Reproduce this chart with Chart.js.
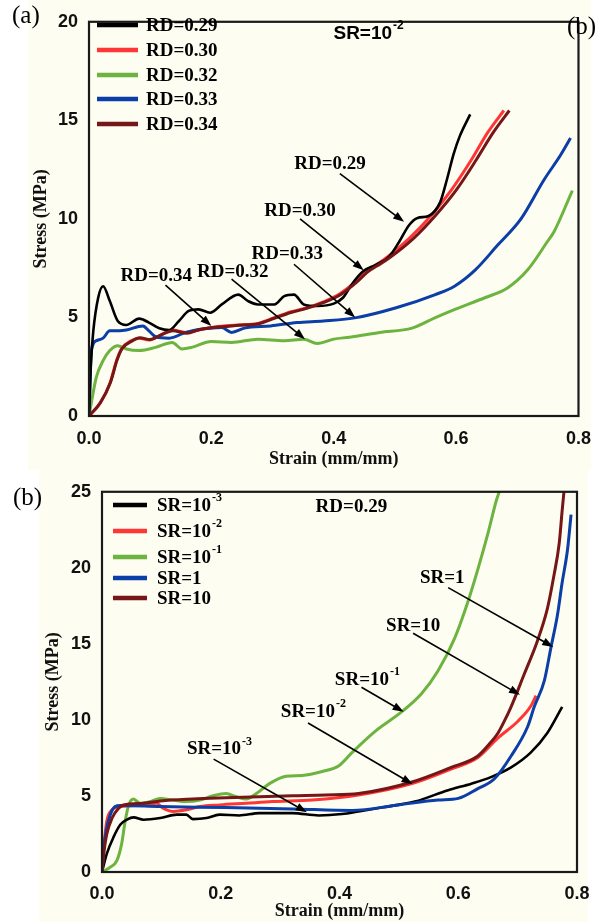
<!DOCTYPE html>
<html>
<head>
<meta charset="utf-8">
<script src="https://cdn.jsdelivr.net/npm/chart.js@4.4.0/dist/chart.umd.min.js"></script>
<style>
  body { margin: 0; background: #fff; }
  #wrap { position: relative; width: 603px; height: 922px; }
  canvas { position: absolute; left: 0; }
</style>
</head>
<body>
<div id="wrap">
  <canvas id="chartA" width="603" height="470" style="top:0px"></canvas>
  <canvas id="chartB" width="603" height="452" style="top:470px"></canvas>
</div>
<script>
// ---- data, panel (a): SR = 10^-2, strain vs stress ----
const rd029 = [[0,0],[0.003,2.6],[0.007,4.3],[0.015,6.0],[0.023,6.58],[0.034,5.83],[0.047,4.82],[0.061,4.62],[0.082,4.94],[0.098,4.74],[0.115,4.45],[0.131,4.36],[0.147,4.82],[0.163,5.33],[0.179,5.41],[0.198,5.24],[0.217,5.66],[0.244,6.16],[0.26,5.83],[0.276,5.66],[0.303,5.66],[0.319,6.08],[0.335,6.16],[0.351,5.66],[0.373,5.58],[0.4,5.7],[0.415,6.0],[0.43,6.7],[0.448,7.34],[0.469,7.67],[0.491,8.1],[0.507,8.84],[0.523,9.68],[0.537,10.05],[0.555,10.15],[0.574,10.85],[0.585,12.0],[0.596,13.3],[0.606,14.2],[0.623,15.3]];
const rd030 = [[0,0],[0.018,0.64],[0.034,1.64],[0.045,2.81],[0.053,3.4],[0.069,3.82],[0.082,3.95],[0.098,3.85],[0.115,4.07],[0.136,4.36],[0.158,4.24],[0.179,4.36],[0.206,4.52],[0.244,4.62],[0.276,4.7],[0.303,4.99],[0.329,5.28],[0.356,5.49],[0.383,5.79],[0.41,6.2],[0.437,6.85],[0.453,7.34],[0.469,7.67],[0.485,8.0],[0.523,9.0],[0.56,10.2],[0.593,11.5],[0.625,13.0],[0.652,14.4],[0.678,15.5]];
const rd032 = [[0,0],[0.012,1.97],[0.023,2.81],[0.034,3.32],[0.047,3.57],[0.061,3.4],[0.082,3.32],[0.109,3.48],[0.136,3.73],[0.152,3.4],[0.168,3.48],[0.2,3.78],[0.233,3.73],[0.276,3.9],[0.319,3.82],[0.351,3.9],[0.373,3.68],[0.4,3.9],[0.426,4.0],[0.475,4.24],[0.528,4.46],[0.566,4.99],[0.598,5.41],[0.647,6.0],[0.684,6.5],[0.717,7.42],[0.749,8.84],[0.76,9.35],[0.79,11.44]];
const rd033 = [[0,0],[0.004,3.32],[0.012,3.82],[0.023,3.95],[0.034,4.32],[0.05,4.32],[0.061,4.36],[0.088,4.57],[0.098,4.32],[0.109,4.02],[0.131,3.95],[0.158,4.24],[0.184,4.41],[0.217,4.49],[0.233,4.24],[0.254,4.46],[0.297,4.57],[0.34,4.74],[0.383,4.82],[0.437,4.99],[0.502,5.49],[0.566,6.16],[0.598,6.6],[0.631,7.4],[0.668,8.67],[0.706,10.0],[0.744,12.0],[0.77,13.2],[0.787,14.1]];
const rd034 = [[0,0],[0.019,0.7],[0.035,1.7],[0.046,2.85],[0.054,3.42],[0.07,3.8],[0.083,3.97],[0.1,3.88],[0.117,4.1],[0.137,4.33],[0.16,4.2],[0.18,4.38],[0.207,4.5],[0.245,4.6],[0.277,4.68],[0.304,4.97],[0.33,5.25],[0.357,5.47],[0.384,5.76],[0.411,6.15],[0.438,6.8],[0.455,7.3],[0.471,7.62],[0.49,8.0],[0.53,9.0],[0.567,10.2],[0.601,11.5],[0.633,13.0],[0.661,14.4],[0.687,15.5]];

// ---- data, panel (b): RD = 0.29 ----
const sr1e3 = [[0,0],[0.008,1.19],[0.019,2.26],[0.031,3.12],[0.042,3.44],[0.053,3.59],[0.07,3.44],[0.098,3.55],[0.126,3.77],[0.142,3.77],[0.153,3.48],[0.176,3.55],[0.198,3.77],[0.231,3.72],[0.265,3.87],[0.321,3.87],[0.365,3.72],[0.404,3.81],[0.432,3.98],[0.471,4.24],[0.527,4.63],[0.583,5.38],[0.622,5.81],[0.655,6.24],[0.689,6.88],[0.722,7.85],[0.75,9.14],[0.775,10.86]];
const sr1e2 = [[0,0],[0.003,1.61],[0.008,3.34],[0.017,4.09],[0.031,4.3],[0.07,4.41],[0.092,4.52],[0.103,4.19],[0.12,3.98],[0.142,4.09],[0.165,4.3],[0.198,4.41],[0.243,4.52],[0.287,4.63],[0.354,4.73],[0.432,5.06],[0.522,5.81],[0.588,6.77],[0.633,7.53],[0.667,8.82],[0.7,9.9],[0.722,10.9],[0.731,11.6]];
const sr1e1 = [[0,0],[0.014,0.32],[0.025,0.75],[0.033,1.83],[0.039,3.34],[0.045,4.41],[0.053,4.8],[0.064,4.52],[0.081,4.63],[0.098,4.84],[0.12,4.73],[0.142,4.63],[0.165,4.73],[0.187,5.01],[0.209,5.16],[0.226,4.95],[0.243,4.8],[0.26,5.16],[0.282,5.81],[0.31,6.3],[0.337,6.35],[0.371,6.61],[0.399,6.99],[0.421,7.85],[0.46,9.25],[0.505,10.54],[0.538,11.72],[0.566,13.23],[0.594,15.38],[0.616,17.74],[0.633,19.9],[0.65,22.26],[0.664,24.41],[0.669,25.0]];
const sr1 = [[0,0],[0.003,1.6],[0.008,2.9],[0.014,3.77],[0.022,4.3],[0.031,4.37],[0.098,4.3],[0.209,4.24],[0.321,4.15],[0.421,4.05],[0.499,4.41],[0.566,4.73],[0.6,4.84],[0.633,5.48],[0.661,6.13],[0.689,7.63],[0.717,9.57],[0.728,10.86],[0.745,12.58],[0.756,14.74],[0.767,16.88],[0.775,19.03],[0.784,21.19],[0.79,23.5]];
const sr10 = [[0,0],[0.003,1.2],[0.008,2.48],[0.017,3.55],[0.028,4.19],[0.036,4.41],[0.07,4.52],[0.098,4.67],[0.153,4.8],[0.209,4.88],[0.265,4.95],[0.321,5.01],[0.377,5.06],[0.432,5.16],[0.522,5.92],[0.588,6.88],[0.633,7.63],[0.652,8.4],[0.667,9.14],[0.678,9.95],[0.689,10.86],[0.711,13.0],[0.733,15.16],[0.75,17.3],[0.761,19.46],[0.77,21.6],[0.775,23.76],[0.778,25.0]];

// series labels (text + superscript) and colours
const labelsA = [['RD=0.29',''],['RD=0.30',''],['RD=0.32',''],['RD=0.33',''],['RD=0.34','']];
const labelsB = [['SR=10','-3'],['SR=10','-2'],['SR=10','-1'],['SR=1',''],['SR=10','']];
const colours = ['#000000','#ff3636','#6cb33f','#0b3ea6','#761616'];

// tick values
const xTicks = [0, 0.2, 0.4, 0.6, 0.8];
const yTicksA = [0, 5, 10, 15, 20];
const yTicksB = [0, 5, 10, 15, 20, 25];

// call-outs: label, sup, text pos, arrow start, arrow end (data units)
const notesA = [
  ['RD=0.29','',0.394,12.8,0.41,12.3,0.515,9.85],
  ['RD=0.30','',0.345,10.4,0.345,10.0,0.449,7.4],
  ['RD=0.33','',0.324,8.2,0.335,7.7,0.435,5.0],
  ['RD=0.34','',0.11,7.1,0.125,6.64,0.2,4.57],
  ['RD=0.32','',0.235,7.3,0.233,6.94,0.353,3.9]
];
const notesB = [
  ['SR=1','',0.573,19.3,0.583,18.7,0.76,14.8],
  ['SR=10','',0.524,16.2,0.524,15.7,0.704,11.65],
  ['SR=10','-1',0.447,12.6,0.437,12.15,0.508,10.54],
  ['SR=10','-2',0.356,10.5,0.347,9.8,0.523,5.78],
  ['SR=10','-3',0.198,8.06,0.188,7.42,0.345,3.93]
];

const SERIF = '"Liberation Serif", "Times New Roman", serif';
const SANS = '"Liberation Sans", Arial, sans-serif';
const CREAM = '#fdfdf2';

function pts(a) { return a.map(p => ({ x: p[0], y: p[1] })); }

function supText(ctx, text, sup, x, y, size, family, align) {
  ctx.font = 'bold ' + size + 'px ' + family;
  const w1 = ctx.measureText(text).width;
  const ss = Math.round(size * 0.62);
  let w2 = 0;
  if (sup) { ctx.font = 'bold ' + ss + 'px ' + family; w2 = ctx.measureText(sup).width + 1; }
  const x0 = align === 'left' ? x : x - (w1 + w2) / 2;
  ctx.textAlign = 'left';
  ctx.textBaseline = 'middle';
  ctx.fillStyle = '#000';
  ctx.font = 'bold ' + size + 'px ' + family;
  ctx.fillText(text, x0, y);
  if (sup) {
    ctx.font = 'bold ' + ss + 'px ' + family;
    ctx.fillText(sup, x0 + w1 + 1, y - size * 0.42);
  }
}

function arrow(ctx, x1, y1, x2, y2) {
  const a = Math.atan2(y2 - y1, x2 - x1);
  ctx.strokeStyle = '#000';
  ctx.fillStyle = '#000';
  ctx.lineWidth = 1.6;
  ctx.beginPath();
  ctx.moveTo(x1, y1);
  ctx.lineTo(x2 - 8 * Math.cos(a), y2 - 8 * Math.sin(a));
  ctx.stroke();
  ctx.beginPath();
  ctx.moveTo(x2, y2);
  ctx.lineTo(x2 - 11 * Math.cos(a) + 4 * Math.sin(a), y2 - 11 * Math.sin(a) - 4 * Math.cos(a));
  ctx.lineTo(x2 - 11 * Math.cos(a) - 4 * Math.sin(a), y2 - 11 * Math.sin(a) + 4 * Math.cos(a));
  ctx.closePath();
  ctx.fill();
}

// panel decoration: cream paper, frame, legend, call-outs, letters
function decor(opt) {
  return {
    id: 'decor',
    beforeDraw(chart) {
      const ctx = chart.ctx;
      ctx.save();
      ctx.fillStyle = CREAM;
      ctx.fillRect(opt.paper[0], 0, opt.paper[1] - opt.paper[0], chart.height);
      ctx.restore();
    },
    afterDraw(chart) {
      const ctx = chart.ctx, ca = chart.chartArea;
      const xs = chart.scales.x, ys = chart.scales.y;
      ctx.save();
      ctx.strokeStyle = '#1a1a1a';
      ctx.lineWidth = 2.2;
      ctx.strokeRect(ca.left, ca.top, ca.right - ca.left, ca.bottom - ca.top);

      // legend
      opt.labels.forEach((l, i) => {
        const y = opt.legY[i];
        ctx.strokeStyle = colours[i];
        ctx.lineWidth = 4.5;
        ctx.beginPath();
        ctx.moveTo(opt.legX[0], y);
        ctx.lineTo(opt.legX[1], y);
        ctx.stroke();
        supText(ctx, l[0], l[1], opt.legX[2], y + 1, 19, SERIF, 'left');
      });

      // call-outs
      opt.notes.forEach(n => {
        supText(ctx, n[0], n[1], xs.getPixelForValue(n[2]), ys.getPixelForValue(n[3]), 19, SERIF);
        arrow(ctx, xs.getPixelForValue(n[4]), ys.getPixelForValue(n[5]),
                   xs.getPixelForValue(n[6]), ys.getPixelForValue(n[7]));
      });

      // header
      const h = opt.head;
      supText(ctx, h[0], h[1], xs.getPixelForValue(h[2]), ys.getPixelForValue(h[3]), h[4], h[5]);

      // panel letters
      ctx.font = '25px ' + SERIF;
      ctx.fillStyle = '#000';
      ctx.textAlign = 'left';
      ctx.textBaseline = 'middle';
      opt.letters.forEach(t => ctx.fillText(t[0], t[1], t[2]));
      ctx.restore();
    }
  };
}

function makeChart(id, series, yMax, yTicks, pad, yW, xH, xPad, opt) {
  const datasets = series.map((s, i) => ({
    label: opt.labels[i][0] + opt.labels[i][1],
    data: pts(s),
    borderColor: colours[i],
    backgroundColor: colours[i],
    borderWidth: i === 0 ? 2.6 : 3,
    pointRadius: 0,
    cubicInterpolationMode: 'monotone',
    order: opt.order[i]
  }));
  return new Chart(document.getElementById(id), {
    type: 'line',
    data: { datasets: datasets },
    options: {
      responsive: false,
      animation: false,
      devicePixelRatio: 1,
      layout: { padding: pad },
      plugins: { legend: { display: false }, tooltip: { enabled: false } },
      scales: {
        x: {
          type: 'linear', min: 0, max: 0.8,
          afterFit(s) { s.height = xH; },
          afterBuildTicks(s) { s.ticks = xTicks.map(v => ({ value: v })); },
          grid: { display: false, drawTicks: false },
          border: { display: false },
          ticks: { padding: xPad, color: '#111', font: { family: SANS, weight: 'bold', size: 18 },
                   callback: v => v.toFixed(1) },
          title: { display: true, text: 'Strain (mm/mm)', color: '#111', padding: 0,
                   font: { family: SERIF, weight: 'bold', size: 18 } }
        },
        y: {
          type: 'linear', min: 0, max: yMax,
          afterFit(s) { s.width = yW; },
          afterBuildTicks(s) { s.ticks = yTicks.map(v => ({ value: v })); },
          grid: { display: false, drawTicks: false },
          border: { display: false },
          ticks: { padding: 11, color: '#111', font: { family: SANS, weight: 'bold', size: 18 } },
          title: { display: true, text: 'Stress (MPa)', color: '#111', padding: 0,
                   font: { family: SERIF, weight: 'bold', size: 18 } }
        }
      }
    },
    plugins: [decor(opt)]
  });
}

makeChart('chartA', [rd029, rd030, rd032, rd033, rd034], 20, yTicksA,
  { left: 31, right: 17, top: 18, bottom: 0 }, 58, 54, 12, {
    labels: labelsA, notes: notesA, order: [1, 3, 4, 2, 0],
    legX: [97, 138, 146], legY: [25, 50, 75, 99, 124],
    head: ['SR=10', '-2', 0.457, 19.4, 19, SANS],
    paper: [28, 591],
    letters: [['(a)', 12, 16], ['(b)', 567, 27]]
  });

makeChart('chartB', [sr1e3, sr1e2, sr1e1, sr1, sr10], 25, yTicksB,
  { left: 43, right: 26, top: 14, bottom: 0 }, 59, 50, 11, {
    labels: labelsB, notes: notesB, order: [3, 2, 4, 1, 0],
    legX: [113, 147, 157], legY: [35, 61, 87, 108, 128],
    head: ['RD=0.29', '', 0.42, 24.0, 19, SERIF],
    paper: [39, 588],
    letters: [['(b)', 13, 28]]
  });
</script>
</body>
</html>
